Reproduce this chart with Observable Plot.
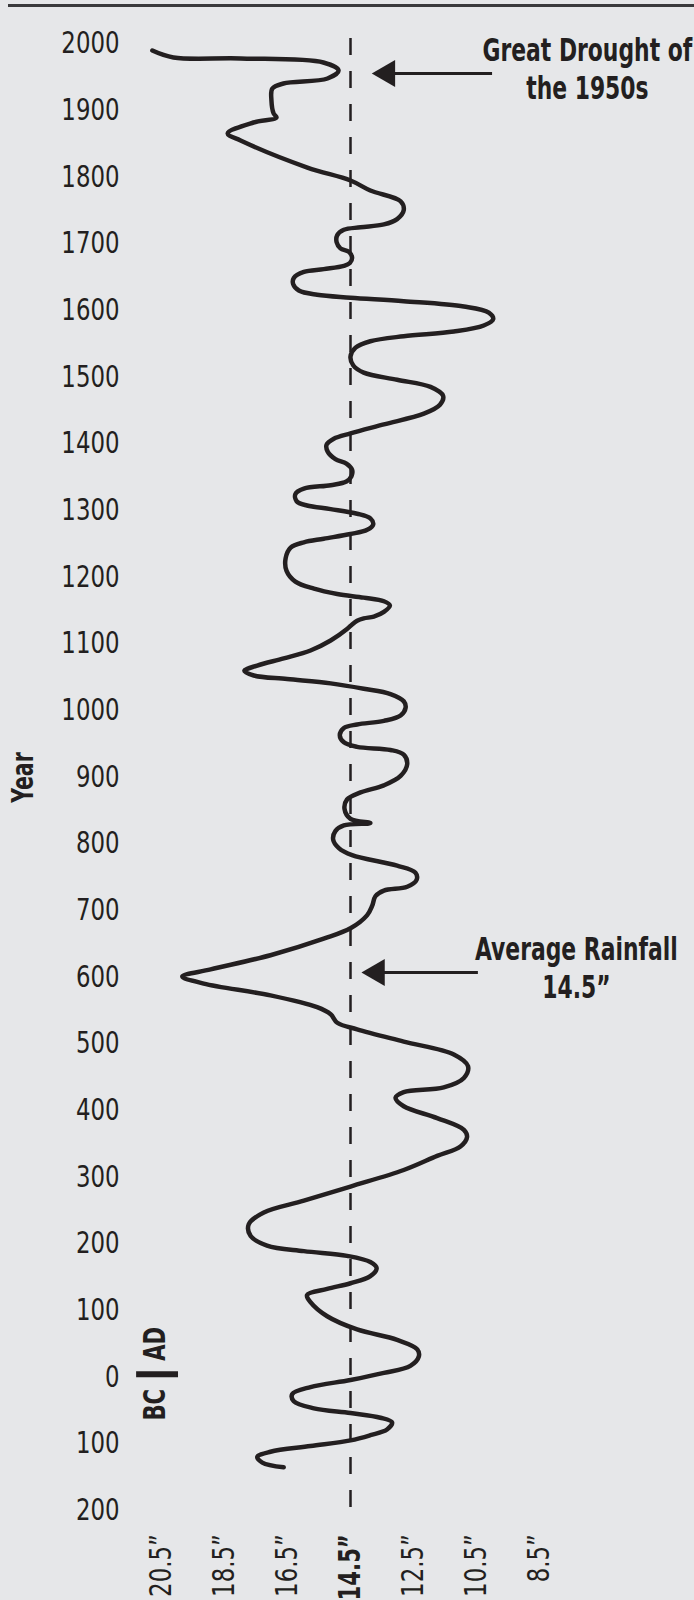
<!DOCTYPE html>
<html>
<head>
<meta charset="utf-8">
<script src="https://cdn.jsdelivr.net/npm/d3@7"></script>
<script src="https://cdn.jsdelivr.net/npm/@observablehq/plot@0.6"></script>
<style>
  body { margin: 0; background: #e6e7e9; }
  #wrap { position: relative; width: 694px; height: 1600px; background: #e6e7e9; overflow: hidden; }
  #topline { position: absolute; left: 8px; right: 0; top: 4px; height: 3px; background: #3a3a3c; }
  #wrap svg { display: block; }
</style>
</head>
<body>
<div id="wrap"><div id="topline"></div></div>
<script>
// Rainfall (inches) along the reconstructed curve, in drawing order
const rainfall = [
  20.79, 20.12, 17.99, 15.36, 14.88, 15.23, 16.63, 16.98, 17.01, 16.94,
  16.85, 17.58, 18.40, 17.99, 15.87, 14.50, 13.87, 12.91, 12.81, 13.02,
  13.44, 14.18, 14.71, 14.92, 14.94, 14.82, 14.55, 14.45, 14.52, 14.71,
  15.35, 15.98, 16.30, 16.32, 16.14, 15.56, 14.50, 12.81, 10.90, 10.11,
  9.97, 10.27, 11.22, 12.81, 13.87, 14.34, 14.50, 14.41, 14.08, 13.02,
  11.96, 11.56, 11.66, 12.17, 13.44, 14.50, 15.03, 15.26, 15.22, 14.98,
  14.63, 14.45, 14.47, 14.63, 15.13, 15.98, 16.25, 16.21, 15.88, 15.13,
  14.29, 13.87, 13.78, 13.97, 14.50, 15.35, 15.98, 16.40, 16.56, 16.53,
  16.25, 15.66, 14.92, 14.08, 13.44, 13.25, 13.44, 13.76, 14.08, 14.29,
  14.45, 14.61, 15.13, 15.77, 16.62, 17.46, 17.87, 17.57, 16.51, 15.13,
  14.08, 13.23, 12.81, 12.75, 12.91, 13.44, 14.29, 14.71, 14.84, 14.71,
  14.29, 13.23, 12.81, 12.70, 12.91, 13.44, 14.18, 14.61, 14.69, 14.50,
  13.87, 14.71, 14.98, 15.05, 14.87, 14.45, 13.02, 12.44, 12.40, 12.70,
  13.44, 13.71, 13.81, 13.97, 14.50, 15.35, 17.04, 18.94, 19.84, 19.16,
  17.04, 15.56, 15.13, 14.92, 14.29, 12.81, 11.22, 10.77, 10.90, 11.54,
  12.81, 13.07, 12.81, 11.75, 10.90, 10.80, 11.01, 11.75, 12.81, 14.50,
  15.98, 17.25, 17.73, 17.67, 17.15, 15.98, 14.61, 13.87, 13.67, 13.87,
  14.50, 15.24, 15.88, 15.77, 15.24, 14.29, 13.02, 12.38, 12.33, 12.60,
  13.44, 14.50, 15.77, 16.35, 16.30, 15.66, 14.50, 13.55, 13.18, 13.34,
  13.87, 14.50, 15.77, 17.04, 17.46, 17.30, 16.62
];
// Year (negative = BC) for each point above
const years = [
  1989.5, 1979, 1977.5, 1971.5, 1959.5, 1947.5, 1940, 1932.5, 1914.5, 1895,
  1889, 1881.5, 1865, 1854.5, 1814, 1794.5, 1779.5, 1763.4, 1750, 1736.6,
  1728.6, 1724.3, 1720.6, 1712.5, 1701.8, 1692.7, 1687.4, 1678.8, 1670.8, 1666.5,
  1661.6, 1657.4, 1648.3, 1639.1, 1629.5, 1623.1, 1618.8, 1613.4, 1605.4, 1596.3,
  1586.6, 1577.0, 1567.9, 1560.9, 1553.4, 1543.8, 1530.4, 1517.0, 1506.3, 1495.6,
  1484.9, 1471.5, 1458.1, 1444.7, 1428.6, 1415.2, 1407.2, 1398.1, 1387.4, 1376.6,
  1369.7, 1360.6, 1350.9, 1342.9, 1337.5, 1332.2, 1324.2, 1313.4, 1307.0, 1301.6,
  1294.7, 1287.7, 1278.6, 1270.6, 1264.2, 1257.2, 1251.8, 1243.8, 1227.7, 1209.0,
  1192.9, 1182.2, 1174.2, 1168.8, 1163.4, 1157.0, 1147.4, 1140.4, 1137.7, 1134.0,
  1128.6, 1121.7, 1104.5, 1089.5, 1077.7, 1067.0, 1059.0, 1052.0, 1046.7, 1040.2,
  1032.2, 1024.2, 1013.4, 1003.8, 992.0, 984.0, 978.6, 973.3, 962.6, 951.8,
  944.9, 940.3, 933.3, 919.1, 901.4, 887.3, 876.6, 866.0, 851.9, 837.0,
  830.6, 827.1, 818.6, 805.8, 793.1, 782.5, 766.9, 756.3, 745.7, 735.1,
  729.4, 720.9, 706.7, 692.6, 672.8, 657.2, 632.4, 611.2, 600.6, 589.9,
  572.2, 554.5, 543.9, 531.2, 521.3, 502.9, 483.7, 466.1, 448.4, 434.2,
  427.1, 418.6, 405.9, 388.2, 370.5, 359.9, 345.7, 331.5, 310.3, 285.5,
  264.3, 246.6, 228.9, 211.2, 197.0, 188.6, 181.5, 172.3, 163.1, 151.0,
  140.4, 131.9, 122.7, 112.1, 90.9, 71.1, 55.5, 41.3, 30.7, 16.5,
  5.9, -4.7, -15.3, -25.9, -36.6, -47.2, -54.3, -61.3, -68.4, -79.0,
  -87.5, -95.3, -103.8, -112.3, -120.1, -128.6, -135.7
];

const yearTicks = [-200, -100, 0, 100, 200, 300, 400, 500, 600, 700, 800, 900, 1000,
  1100, 1200, 1300, 1400, 1500, 1600, 1700, 1800, 1900, 2000];
const rainTicks = [20.5, 18.5, 16.5, 12.5, 10.5, 8.5];
const averageRainfall = 14.5;

// annotations (data coordinates)
const droughtNote = {x: 6.98, y: 1964, text: "Great Drought of\nthe 1950s", arrowYear: 1955, tip: 13.80, from: 13.13, to: 9.99};
const averageNote = {x: 7.33, y: 615.5, text: "Average Rainfall\n14.5\u201D", arrowYear: 606.5, tip: 14.15, from: 13.45, to: 10.44};
const yearLabel = {x: 24.88, y: 899, text: "Year"};
const eraLabel = {x: 20.69, bar: 4, ad: 24, bc: -18, barFrom: 21.29, barTo: 19.96};

const path = rainfall.map((r, i) => ({r, year: years[i]}));
const FONT = "'Liberation Sans Narrow', 'DejaVu Sans Condensed', 'Arial Narrow', sans-serif";
const INK = "#231f20";
const fmt = d => d.toFixed(1) + "\u201D";

const arrows = [droughtNote, averageNote];

const chart = Plot.plot({
  width: 694,
  height: 1600,
  marginLeft: 161,
  marginRight: 155,
  marginTop: 43,
  marginBottom: 90.3,
  style: {background: "transparent", fontFamily: FONT, color: INK, overflow: "visible"},
  x: {domain: [20.5, 8.5], axis: null},
  y: {domain: [-200, 2000], axis: null},
  marks: [
    Plot.axisY(yearTicks, {tickSize: 0, tickPadding: 42, tickFormat: d => String(Math.abs(d)), fontSize: 31, label: null, fill: INK}),
    Plot.axisX(rainTicks, {tickSize: 0, tickPadding: 24, tickRotate: -90, tickFormat: fmt, fontSize: 31, label: null, fill: INK, textAnchor: "end", lineAnchor: "middle"}),
    Plot.axisX([averageRainfall], {tickSize: 0, tickPadding: 24, tickRotate: -90, tickFormat: fmt, fontSize: 31, fontWeight: "bold", label: null, fill: INK, textAnchor: "end", lineAnchor: "middle"}),
    Plot.ruleX([averageRainfall], {y1: 2007.5, y2: -196, stroke: INK, strokeWidth: 2.5, strokeDasharray: "17,16"}),
    Plot.line(path, {x: "r", y: "year", curve: "catmull-rom", stroke: INK, strokeWidth: 4.5, strokeLinecap: "round", strokeLinejoin: "round"}),
    // arrows
    Plot.ruleY(arrows, {y: "arrowYear", x1: "from", x2: "to", stroke: INK, strokeWidth: 3}),
    Plot.dot(arrows, {x: d => d.tip + (d.from - d.tip) * 0.7, y: "arrowYear", symbol: "triangle", rotate: -90, r: 10, fill: INK, stroke: "none"}),
    Plot.text(arrows, {x: "x", y: "y", text: "text", fontSize: 32, fontWeight: "bold", lineHeight: 1.19, fill: INK}),
    // axis title
    Plot.text([yearLabel], {x: "x", y: "y", text: "text", rotate: -90, fontSize: 30, fontWeight: "bold", fill: INK}),
    // BC | AD
    Plot.text([eraLabel], {x: "x", y: "ad", text: () => "AD", rotate: -90, textAnchor: "start", fontSize: 31, fontWeight: "bold", fill: INK}),
    Plot.text([eraLabel], {x: "x", y: "bc", text: () => "BC", rotate: -90, textAnchor: "end", fontSize: 31, fontWeight: "bold", fill: INK}),
    Plot.ruleY([eraLabel], {y: "bar", x1: "barFrom", x2: "barTo", stroke: INK, strokeWidth: 6})
  ]
});

document.getElementById("wrap").prepend(chart);

// Emulate the narrow (condensed) typeface of the original by squeezing glyphs along the text direction
chart.querySelectorAll("text").forEach(t => {
  const w = parseInt(getComputedStyle(t).fontWeight, 10) || 400;
  const s = w >= 600 ? 0.76 : 0.82;
  const tr = t.getAttribute("transform") || "";
  t.setAttribute("transform", `${tr} scale(${s},1)`.trim());
});
</script>
</body>
</html>
